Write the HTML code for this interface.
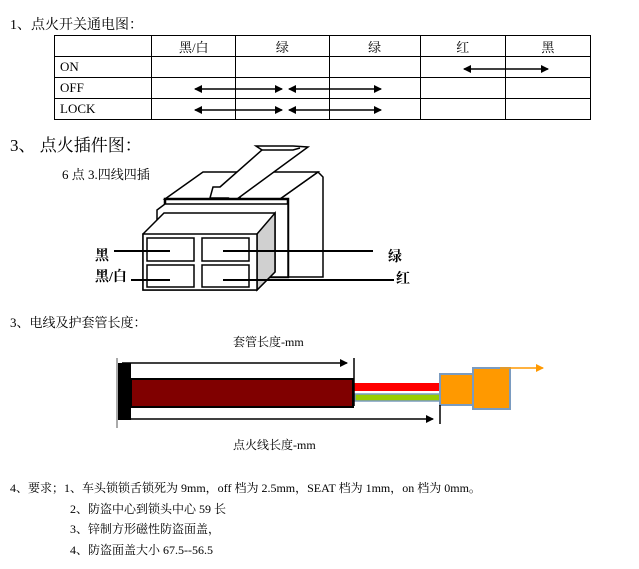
<!DOCTYPE html><html><head><meta charset="utf-8"><style>
body{margin:0;width:639px;height:569px;background:#fff;position:relative;font-family:"Liberation Serif","Noto Serif CJK SC",serif;color:#000;overflow:hidden}
.t{position:absolute;white-space:nowrap;font-size:13px}
table{position:absolute;left:54px;top:35px;border-collapse:collapse;font-size:13px;table-layout:fixed;width:537px}
td{border:1px solid #000;height:20px;padding:0;text-align:center}
td.l{text-align:left;padding-left:5px}
</style></head><body>
<div class="t" style="left:10px;top:14px;font-size:14px">1、点火开关通电图：</div>
<table>
<col style="width:97px"><col style="width:84px"><col style="width:93px"><col style="width:91px"><col style="width:85px"><col style="width:85px">
<tr><td></td><td>黑/白</td><td>绿</td><td>绿</td><td>红</td><td>黑</td></tr>
<tr><td class="l">ON</td><td></td><td></td><td></td><td></td><td></td></tr>
<tr><td class="l">OFF</td><td></td><td></td><td></td><td></td><td></td></tr>
<tr><td class="l">LOCK</td><td></td><td></td><td></td><td></td><td></td></tr>
</table>
<div class="t" style="left:10px;top:131px;font-size:17px">3、 点火插件图：</div>
<div class="t" style="left:62px;top:164px">6 点 3.四线四插</div>
<div class="t" style="left:95px;top:245px;font-size:14px;font-weight:bold">黑</div>
<div class="t" style="left:95px;top:266px;font-size:14px;font-weight:bold">黑/白</div>
<div class="t" style="left:388px;top:246px;font-size:14px;font-weight:bold">绿</div>
<div class="t" style="left:396px;top:268px;font-size:14px;font-weight:bold">红</div>
<div class="t" style="left:10px;top:312px">3、电线及护套管长度：</div>
<div class="t" style="left:233px;top:333px;font-size:12px">套管长度-mm</div>
<div class="t" style="left:233px;top:436px;font-size:12px">点火线长度-mm</div>
<div class="t" style="left:10px;top:479px;font-size:12px">4、要求；1、车头锁锁舌锁死为 9mm，off 档为 2.5mm，SEAT 档为 1mm，on 档为 0mm。</div>
<div class="t" style="left:70px;top:500px;font-size:12px">2、防盗中心到锁头中心 59 长</div>
<div class="t" style="left:70px;top:520px;font-size:12px">3、锌制方形磁性防盗面盖，</div>
<div class="t" style="left:70px;top:541px;font-size:12px">4、防盗面盖大小 67.5--56.5</div>
<svg width="639" height="569" style="position:absolute;left:0;top:0">
<defs><marker id="a" markerWidth="8" markerHeight="8" refX="7" refY="4" orient="auto-start-reverse" markerUnits="userSpaceOnUse"><path d="M0,0L8,4L0,8z" fill="#000"/></marker>
<marker id="o" markerWidth="8" markerHeight="8" refX="7" refY="4" orient="auto" markerUnits="userSpaceOnUse"><path d="M0,0L8,4L0,8z" fill="#f90"/></marker></defs>
<g stroke="#000" stroke-width="1.5" marker-start="url(#a)" marker-end="url(#a)">
<line x1="464" y1="69" x2="548" y2="69"/>
<line x1="195" y1="89" x2="282" y2="89"/><line x1="289" y1="89" x2="381" y2="89"/>
<line x1="195" y1="110" x2="282" y2="110"/><line x1="289" y1="110" x2="381" y2="110"/>
</g>
<g stroke="#000" stroke-width="1.5" fill="#fff">
<path d="M280,199 L318,172 L323,177 L323,277 L288,277 L288,199z"/>
<path d="M165,199 L203,172 L318,172 L280,199z"/>
<path d="M210,198 L213,187 L242,187 L240,198z"/>
<path d="M220,187 L262,150 L256,146 L293,146 L308,147 L233,202"/>
<path d="M262,150 L293,150 L300,148"/>
<path d="M165,199 L288,199 L288,277 L165,277z" stroke-width="2.5"/>
<path d="M157,210 L165,204 L288,204 L288,277 L157,277z"/>
<path d="M143,234 L164,213 L275,213 L275,272 L257,290 L143,290z"/>
<path d="M257,234 L275,213 L275,272 L257,290z" fill="#d0d0d0"/>
<rect x="143" y="234" width="114" height="56"/>
<rect x="147" y="238" width="47" height="23"/><rect x="202" y="238" width="47" height="23"/>
<rect x="147" y="265" width="47" height="22"/><rect x="202" y="265" width="47" height="22"/>
</g>
<g stroke="#000" stroke-width="2">
<line x1="114" y1="251" x2="170" y2="251"/><line x1="223" y1="251" x2="373" y2="251"/>
<line x1="131" y1="280" x2="170" y2="280"/><line x1="223" y1="280" x2="394" y2="280"/>
</g>
<rect x="118" y="363" width="13" height="57" fill="#000"/>
<line x1="117" y1="358" x2="117" y2="428" stroke="#555"/>
<rect x="131" y="379" width="222" height="28" fill="#800000" stroke="#000" stroke-width="2"/>
<rect x="354" y="383" width="86" height="8" fill="#f00"/>
<rect x="355" y="394" width="85" height="7" fill="#9c0" stroke="#7a9bc0" stroke-width="1.5"/>
<rect x="440" y="374" width="34" height="31" fill="#f90" stroke="#7a9bc0" stroke-width="2"/>
<rect x="473" y="368" width="37" height="41" fill="#f90" stroke="#7a9bc0" stroke-width="2"/>
<line x1="500" y1="368" x2="543" y2="368" stroke="#f90" stroke-width="1.5" marker-end="url(#o)"/>
<line x1="122" y1="363" x2="347" y2="363" stroke="#000" stroke-width="1.5" marker-end="url(#a)"/>
<line x1="354" y1="358" x2="354" y2="406" stroke="#000" stroke-width="1.5"/>
<line x1="118" y1="419" x2="433" y2="419" stroke="#000" stroke-width="1.5" marker-end="url(#a)"/>
<line x1="440" y1="405" x2="440" y2="424" stroke="#000" stroke-width="1.5"/>
</svg>
</body></html>
